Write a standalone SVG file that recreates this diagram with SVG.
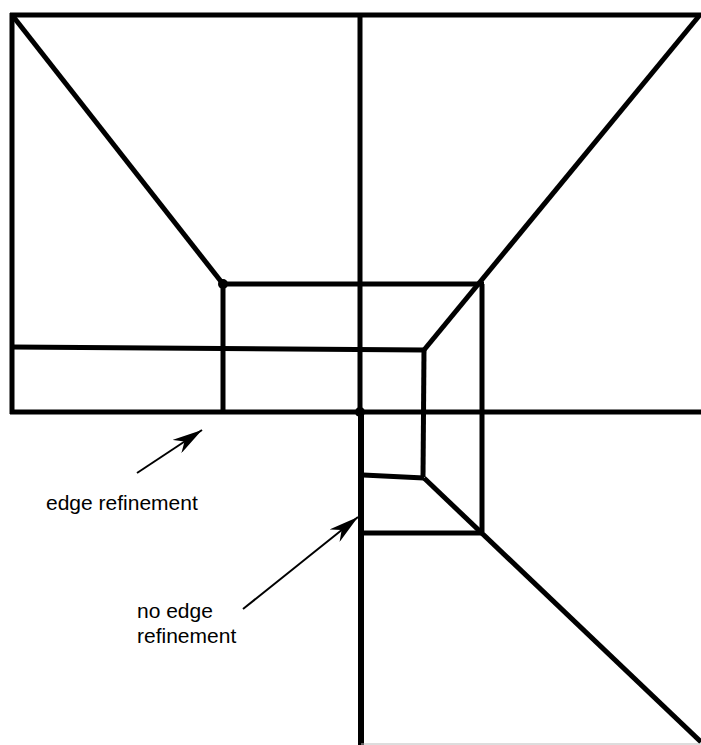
<svg xmlns="http://www.w3.org/2000/svg" width="701" height="745" viewBox="0 0 701 745">
<style>
.m{stroke:#000;stroke-width:5;fill:none;stroke-linecap:butt;stroke-linejoin:miter}
.a{stroke:#000;stroke-width:2;fill:none}
.t{font-family:"Liberation Sans",Arial,sans-serif;font-size:21px;fill:#000}
</style>
<defs>
<marker id="ah" viewBox="0 0 30 16" refX="30" refY="8" markerWidth="30" markerHeight="16" markerUnits="userSpaceOnUse" orient="auto">
<path d="M0,0 L30,8 L0,16 L9,8 Z" fill="#000"/>
</marker>
</defs>
<rect width="701" height="745" fill="#fff"/>
<g id="mesh">
<path class="m" d="M10,15 H701"/>
<path class="m" d="M12,13 V414"/>
<path class="m" d="M10,412 H701"/>
<path class="m" d="M360,17 V412"/>
<path class="m" d="M361,412 V745" style="stroke-width:6"/>
<path class="m" d="M12,15 L223,284"/>
<path class="m" d="M223,284 H484"/>
<path class="m" d="M223,284 V412"/>
<path class="m" d="M12,347 L424,350"/>
<path class="m" d="M699,16 L424,350"/>
<path class="m" d="M424,350 L423,477"/>
<path class="m" d="M363,475 L424,478"/>
<path class="m" d="M424,478 L701,742"/>
<path class="m" d="M482,284 V532"/>
<path class="m" d="M363,533 H482"/>
<circle cx="223" cy="284" r="5" fill="#000"/>
<circle cx="360" cy="412" r="5" fill="#000"/>
<path d="M361,744 H701" stroke="#bbb" stroke-width="1"/>
</g>
<g id="connectors">
<path class="a" d="M137,473 L202,430" marker-end="url(#ah)"/>
<path class="a" d="M243,609 L358,517" marker-end="url(#ah)"/>
</g>
<g id="label-edge-refinement">
<text class="t" x="46" y="510">edge refinement</text>
</g>
<g id="label-no-edge-refinement">
<text class="t" x="137" y="618">no edge</text>
<text class="t" x="137" y="643">refinement</text>
</g>
</svg>
